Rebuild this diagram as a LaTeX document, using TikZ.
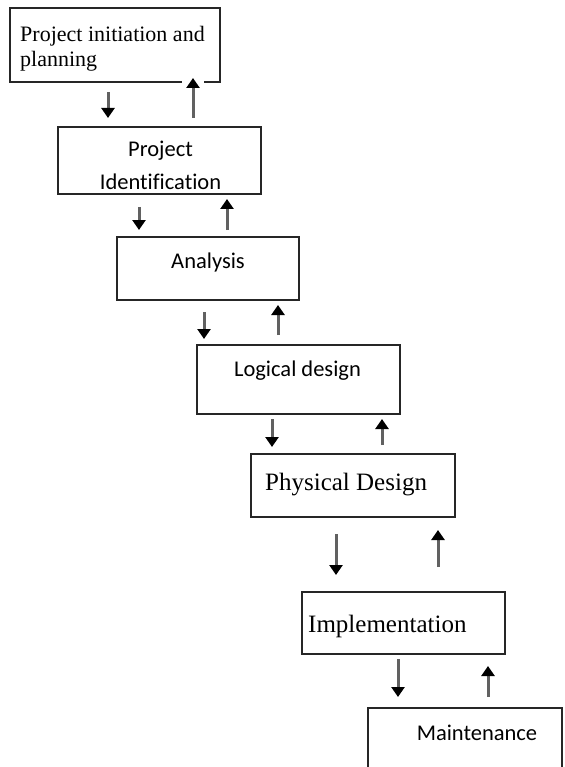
\documentclass[tikz,border=0pt]{standalone}
\usepackage{fontspec}
\setmainfont{Liberation Serif}
\newfontfamily\calfont[Ligatures=NoCommon]{Carlito}
\usetikzlibrary{arrows.meta,calc}
\begin{document}
\begin{tikzpicture}[x=1pt,y=-1pt,
  stage/.style={draw=black!85, line width=2pt, inner sep=0pt, anchor=north west},
  serif/.style={inner sep=0pt, font=\fontsize{22}{25}\selectfont},
  bigserif/.style={inner sep=0pt, font=\fontsize{25}{28}\selectfont},
  sans/.style={inner sep=0pt, font=\calfont\fontsize{22.5}{33}\selectfont},
  flow/.style={draw=black!62, line width=3pt,
    -{Triangle[length=10pt,width=13pt,color=black]}}
]
\useasboundingbox (0,0) rectangle (564,767);
\clip (0,0) rectangle (564,767);

% stages of the life cycle
\node[stage, minimum width=210pt, minimum height=74pt] (b1) at (9,7) {};
\node[stage, minimum width=203pt, minimum height=67pt] (b2) at (57,126) {};
\node[stage, minimum width=182pt, minimum height=63pt] (b3) at (116,236) {};
\node[stage, minimum width=203pt, minimum height=69pt] (b4) at (196,344) {};
\node[stage, minimum width=204pt, minimum height=63pt] (b5) at (250,453) {};
\node[stage, minimum width=203pt, minimum height=62pt] (b6) at (301,591) {};
\node[stage, minimum width=194pt, minimum height=120pt] (b7) at (367,707) {};

% stage titles
\node[serif, anchor=north west, align=left] (t1) at ($(b1.north west)+(11,19)$)
  {Project initiation and\\planning};
\node[sans, anchor=north, align=center] (t2) at ($(b2.north)+(1,15)$)
  {Project\\Identification};
\node[sans, anchor=base] (t3) at ($(b3.north)+(0,32)$) {Analysis};
\node[sans, anchor=base] (t4) at ($(b4.north)+(-1,32)$) {Logical design};
\node[bigserif, anchor=base west] (t5) at ($(b5.north west)+(15,37)$) {Physical Design};
\node[bigserif, anchor=base west] (t6) at ($(b6.north west)+(7,41)$) {Implementation};
\node[sans, anchor=base] (t7) at ($(b7.north west)+(110,33)$) {Maintenance};

% white gap where the first return arrow meets its box
\fill[white] ($(b1.south west)+(173,-4)$) rectangle ($(b1.south west)+(195,5)$);

% forward and return arrows
\draw[flow] ($(b1.south west)+(99,9)$)   -- ($(b2.north west)+(51,-8)$);
\draw[flow] ($(b2.north west)+(136,-8)$) -- ($(b1.south west)+(184,-5)$);
\draw[flow] ($(b2.south west)+(82,12)$)  -- ($(b3.north west)+(23,-6)$);
\draw[flow] ($(b3.north west)+(111,-6)$) -- ($(b2.south west)+(170,4)$);
\draw[flow] ($(b3.south west)+(88,11)$)  -- ($(b4.north west)+(8,-5)$);
\draw[flow] ($(b4.north west)+(82,-9)$)  -- ($(b3.south west)+(162,4)$);
\draw[flow] ($(b4.south west)+(76,4)$)   -- ($(b5.north west)+(22,-6)$);
\draw[flow] ($(b5.north west)+(132,-8)$) -- ($(b4.south west)+(186,4)$);
\draw[flow] ($(b5.south west)+(86,16)$)  -- ($(b6.north west)+(35,-16)$);
\draw[flow] ($(b6.north west)+(137,-24)$) -- ($(b5.south west)+(188,12)$);
\draw[flow] ($(b6.south west)+(97,4)$)   -- ($(b7.north west)+(31,-10)$);
\draw[flow] ($(b7.north west)+(121,-10)$) -- ($(b6.south west)+(187,11)$);
\end{tikzpicture}
\end{document}
